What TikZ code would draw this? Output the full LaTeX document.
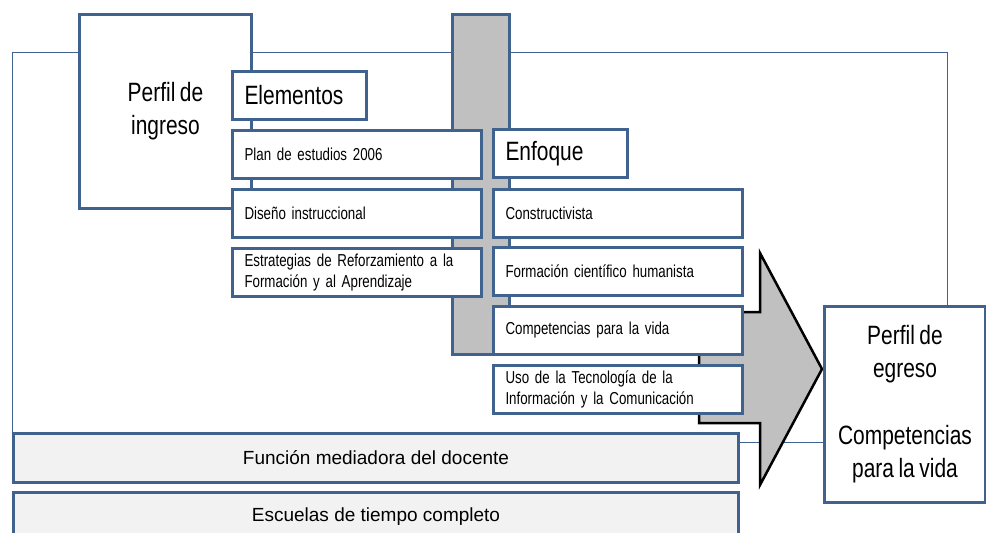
\documentclass[tikz,border=0pt]{standalone}
\usepackage{fontspec}
\setmainfont{Liberation Sans}
\newfontfamily\narrowfont[FakeStretch=0.79,WordSpace=0.79]{Liberation Sans}
\newfontfamily\smallnarrowfont[FakeStretch=0.77,WordSpace=0.6]{Liberation Sans}
\definecolor{edge}{RGB}{64,98,142}
\definecolor{bargray}{RGB}{192,192,192}
\definecolor{bandgray}{RGB}{242,242,242}
\tikzset{every box/.style={draw=edge,line width=3pt,fill=white,anchor=north west,inner sep=0pt},
         item/.style={every box,text width=225pt,inner xsep=12pt,minimum height=48pt,align=left,font=\smallnarrowfont\fontsize{17.3}{20.5}\selectfont},
         head/.style={every box,text width=110pt,inner xsep=12pt,minimum height=48pt,align=left,font=\narrowfont\fontsize{26.5}{32}\selectfont},
         profile/.style={every box,align=center,font=\narrowfont\fontsize{26.5}{33}\selectfont},
         band/.style={every box,fill=bandgray,minimum width=725pt,minimum height=49pt,font=\fontsize{19}{23}\selectfont},
        }

\begin{document}
\begin{tikzpicture}[x=1pt,y=-1pt]
        \clip (0,0) rectangle (986,533);
        \draw[edge,line width=1pt] (12,52) rectangle (947,442);
        \node[profile,minimum width=172pt,minimum height=194pt] (in) at (78,13) {Perfil de\\ingreso};
        \node[every box,fill=bargray,minimum width=57pt,minimum height=340pt] (bar) at (451,13) {};
        \draw[line width=2.5pt,fill=bargray] (699,312) -- (760,312) -- (760,253) -- (822,369) -- (760,485) -- (760,423) -- (699,423) -- cycle;

        \node[head] (el) at (231,70) {Elementos};
        \node[item] (e1) at (231,129) {Plan de estudios 2006};
        \node[item] (e2) at (231,188) {Diseño instruccional};
        \node[item] (e3) at (231,247) {Estrategias de Reforzamiento a la\\Formación y al Aprendizaje};

        \node[head] (en) at (492,128) {Enfoque};
        \node[item] (f1) at (492,188) {Constructivista};
        \node[item] (f2) at (492,246) {Formación científico humanista};
        \node[item] (f3) at (492,305) {Competencias para la vida};
        \node[item] (f4) at (492,364) {Uso de la Tecnología de la\\Información y la Comunicación};

        \node[profile,minimum width=161pt,minimum height=196pt] (out) at (823,305) {Perfil de\\egreso\\[34pt]Competencias\\para la vida};
        \node[band] (b1) at (12,432) {Función mediadora del docente};
        \node[band] (b2) at (12,491) {Escuelas de tiempo completo};
    \end{tikzpicture}
\end{document}
